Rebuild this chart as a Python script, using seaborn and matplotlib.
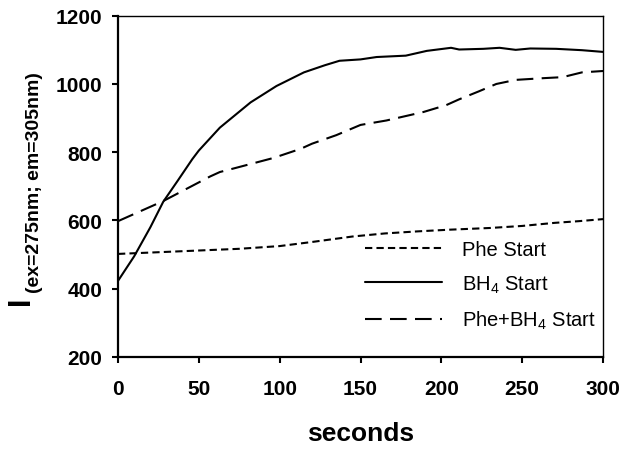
import matplotlib
matplotlib.use("Agg")
import matplotlib.pyplot as plt
import seaborn as sns

# readings from the reference chart
phe_t = [0, 25, 50, 75, 100, 120, 145, 165, 185, 205, 230, 250, 270, 285, 300]
phe_v = [502, 507, 512, 517, 525, 537, 553, 562, 568, 573, 578, 584, 593, 598, 604]

bh4_t = [0, 10, 20, 28, 37, 46, 50, 63, 82, 98, 115, 128, 137, 150, 160, 178,
         191, 206, 211, 226, 236, 246, 255, 271, 287, 300]
bh4_v = [423, 495, 580, 655, 717, 780, 805, 872, 946, 994, 1034, 1055, 1068, 1072,
         1079, 1083, 1097, 1106, 1101, 1103, 1106, 1100, 1104, 1103, 1099, 1094]

both_t = [0, 28, 57, 63, 72, 96, 113, 120, 135, 150, 166, 189, 203, 211, 223,
          234, 246, 263, 275, 287, 300]
both_v = [598, 657, 729, 742, 753, 783, 810, 825, 850, 880, 893, 918, 938, 955,
          978, 1000, 1012, 1017, 1020, 1034, 1038]

x_ticks = [0, 50, 100, 150, 200, 250, 300]
y_ticks = [200, 400, 600, 800, 1000, 1200]

sns.set_theme(style="ticks")
plt.rcParams["font.family"] = ["Liberation Sans", "DejaVu Sans"]
plt.rcParams["text.color"] = "black"
plt.rcParams["axes.labelcolor"] = "black"
plt.rcParams["axes.edgecolor"] = "black"
plt.rcParams["mathtext.fontset"] = "custom"
plt.rcParams["mathtext.rm"] = "Liberation Sans"
plt.rcParams["mathtext.bf"] = "Liberation Sans:bold"

fig = plt.figure(figsize=(6.29, 4.52), dpi=100)
ax = fig.add_axes([0.1876, 0.208, 0.7711, 0.755])

sns.lineplot(x=phe_t, y=phe_v, ax=ax, color="black", linewidth=1.5,
             label="Phe Start")
sns.lineplot(x=bh4_t, y=bh4_v, ax=ax, color="black", linewidth=1.5,
             label="BH$_4$ Start")
sns.lineplot(x=both_t, y=both_v, ax=ax, color="black", linewidth=1.5,
             label="Phe+BH$_4$ Start")

lines = ax.get_lines()
lines[0].set_dashes([3.5, 2.0])
lines[2].set_dashes([8, 4])

ax.set_xlim(0, 300)
ax.set_ylim(200, 1200)
ax.set_xticks(x_ticks)
ax.set_yticks(y_ticks)

for side in ["left", "bottom"]:
    ax.spines[side].set_linewidth(1.6)
for side in ["top", "right"]:
    ax.spines[side].set_linewidth(1.0)

ax.tick_params(axis="both", direction="out", length=4.5, width=1.5,
               labelsize=15, colors="black")
ax.tick_params(axis="x", pad=11)
ax.tick_params(axis="y", pad=7)
for lab in ax.get_xticklabels() + ax.get_yticklabels():
    lab.set_fontweight("bold")

ax.set_xlabel("seconds", fontsize=19, fontweight="bold", labelpad=17)
ax.set_ylabel("")

# y label: big "I" with a smaller subscript, drawn as two rotated texts
fig.text(0.034, 0.334, "I", rotation=90, fontsize=22, fontweight="bold",
         ha="center", va="center")
fig.text(0.055, 0.352, "(ex=275nm; em=305nm)", rotation=90, fontsize=14,
         fontweight="bold", ha="center", va="bottom")

leg = ax.legend(loc="lower right", bbox_to_anchor=(0.986, 0.075), frameon=False,
                fontsize=14.5, handlelength=3.85, labelspacing=0.72,
                handletextpad=1.0, borderpad=0, borderaxespad=0)
for h in leg.get_lines():
    h.set_linewidth(1.5)

plt.savefig("out.png", dpi=100)
plt.close()
